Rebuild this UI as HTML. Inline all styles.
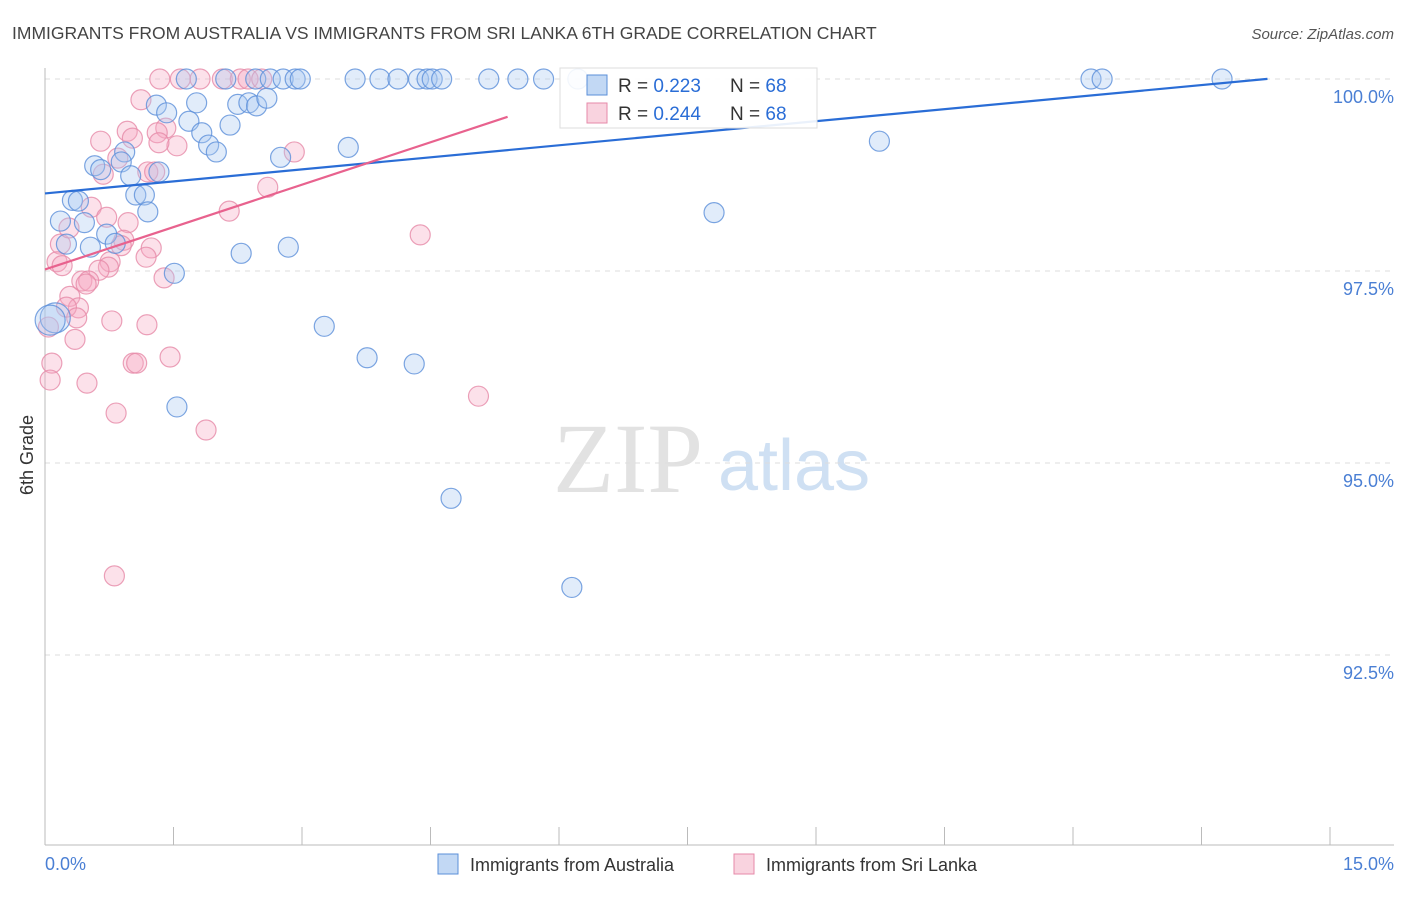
<!DOCTYPE html>
<html><head><meta charset="utf-8"><style>
body{margin:0;background:#fff;font-family:"Liberation Sans",sans-serif}
</style></head><body>
<svg width="1406" height="892" viewBox="0 0 1406 892" xmlns="http://www.w3.org/2000/svg">
<text x="12" y="39" font-size="17.5" fill="#444">IMMIGRANTS FROM AUSTRALIA VS IMMIGRANTS FROM SRI LANKA 6TH GRADE CORRELATION CHART</text>
<text x="1394" y="39" font-size="15" fill="#555" font-style="italic" text-anchor="end">Source: ZipAtlas.com</text>
<g>
<text x="553" y="492" font-size="100" fill="#e2e2e2" font-family="Liberation Serif,serif">ZIP</text>
<text x="718" y="490" font-size="72" fill="#cfe0f3">atlas</text>
</g>
<g id="grid"></g>
<line x1="45" y1="68" x2="45" y2="845" stroke="#bbb"/>
<line x1="45" y1="845" x2="1394" y2="845" stroke="#bbb"/>
<g id="xticks"></g>
<text x="45" y="870" font-size="18" fill="#4a7fd4">0.0%</text>
<text x="1394" y="870" font-size="18" fill="#4a7fd4" text-anchor="end">15.0%</text>
<text transform="translate(33,455) rotate(-90)" font-size="18" fill="#333" text-anchor="middle">6th Grade</text>
<g id="pts"></g>
<g id="lines"></g>
<g>
<rect x="560" y="68" width="257" height="60" fill="#fff" fill-opacity="0.9" stroke="#ddd"/>
<rect x="587" y="75" width="20" height="20" fill="#a8c8f0" fill-opacity="0.7" stroke="#5b8fd9"/>
<text x="618" y="92" font-size="19" fill="#333">R = <tspan fill="#2a6dd6">0.223</tspan><tspan x="730">N = </tspan><tspan fill="#2a6dd6">68</tspan></text>
<rect x="587" y="103" width="20" height="20" fill="#f7c0d2" fill-opacity="0.7" stroke="#e68aa8"/>
<text x="618" y="120" font-size="19" fill="#333">R = <tspan fill="#2a6dd6">0.244</tspan><tspan x="730">N = </tspan><tspan fill="#2a6dd6">68</tspan></text>
</g>
<g>
<rect x="438" y="854" width="20" height="20" fill="#a8c8f0" fill-opacity="0.7" stroke="#5b8fd9"/>
<text x="470" y="871" font-size="18" fill="#333">Immigrants from Australia</text>
<rect x="734" y="854" width="20" height="20" fill="#f7c0d2" fill-opacity="0.7" stroke="#e68aa8"/>
<text x="766" y="871" font-size="18" fill="#333">Immigrants from Sri Lanka</text>
</g>
</svg>
<script>
const yTicks=[100,97.5,95,92.5];
const yTickLabels=["100.0%","97.5%","95.0%","92.5%"];
const xTicks=[0,1.5,3,4.5,6,7.5,9,10.5,12,13.5,15];
const blueX=[1.65,2.11,2.46,2.63,2.78,2.92,2.98,3.62,3.91,4.12,4.36,4.46,4.52,4.63,5.18,5.52,5.82,6.22,12.21,12.34,13.74,1.30,1.77,1.42,2.25,2.38,2.47,2.59,1.68,1.83,2.16,1.91,2.00,2.75,3.54,9.74,0.93,0.58,0.65,0.89,1.00,1.33,1.06,1.16,1.20,0.32,0.39,0.18,0.46,0.72,0.82,0.53,0.25,2.29,2.84,1.51,0.12,0.06,3.26,3.76,4.31,1.54,4.74,6.15,7.81];
const blueY=[100,100,100,100,100,100,100,100,100,100,100,100,100,100,100,100,100,100,100,100,100,99.66,99.69,99.56,99.67,99.69,99.65,99.75,99.45,99.30,99.40,99.14,99.05,98.98,99.11,99.19,99.05,98.87,98.82,98.92,98.74,98.79,98.49,98.49,98.27,98.42,98.41,98.15,98.13,97.98,97.86,97.81,97.85,97.73,97.81,97.47,96.89,96.86,96.78,96.37,96.29,95.73,94.54,93.38,98.26];
const pinkX=[1.34,1.58,1.81,2.07,2.28,2.37,2.53,1.12,1.41,1.31,0.96,1.02,0.65,1.54,1.33,0.85,0.68,1.20,1.28,0.54,0.72,0.97,2.15,2.60,2.91,4.38,0.92,0.89,0.18,0.28,0.14,0.20,1.24,1.18,0.76,0.74,0.63,0.43,0.51,0.48,1.39,0.29,0.39,0.25,0.37,0.78,1.19,0.04,0.35,0.08,1.03,1.07,1.46,0.06,0.49,0.83,1.88,5.06,0.81];
const pinkY=[100,100,100,100,100,100,100,99.73,99.36,99.30,99.32,99.23,99.19,99.13,99.17,98.97,98.76,98.79,98.79,98.33,98.20,98.13,98.28,98.59,99.05,97.97,97.90,97.83,97.85,98.06,97.62,97.57,97.80,97.68,97.62,97.55,97.51,97.37,97.37,97.33,97.41,97.17,97.02,97.03,96.89,96.85,96.80,96.77,96.61,96.30,96.30,96.30,96.38,96.08,96.04,95.65,95.43,95.87,93.53];
const blueTrend=[98.51,0.1045,0,14.27];
const pinkTrend=[97.52,0.368,0,5.4];
const NS="http://www.w3.org/2000/svg";
const sx=v=>45+v*(1330-45)/15;
const sy=v=>79+(100-v)*76.8;
function mk(t,a,p){const e=document.createElementNS(NS,t);for(const k in a)e.setAttribute(k,a[k]);p.appendChild(e);return e;}
const grid=document.getElementById('grid');
yTicks.forEach((t,i)=>{
 const l=mk('line',{x1:45,x2:1394,y1:sy(t),y2:sy(t),stroke:'#ddd','stroke-dasharray':'5,5'},grid);
 
 
 const tx=mk('text',{x:1394,y:sy(t)+24,'font-size':18,fill:'#4a7fd4','text-anchor':'end'},grid);
 tx.textContent=yTickLabels[i];
 
 
});
const xt=document.getElementById('xticks');
xTicks.forEach(t=>{
 const l=mk('line',{x1:sx(t),x2:sx(t),y1:827,y2:845,stroke:'#bbb'},xt);
 
 
});
const pts=document.getElementById('pts');
function draw(X,Y,fill,stroke,name){
 X.forEach((x,i)=>{
  const big=(x<0.2&&Y[i]>96.8&&Y[i]<97);
  const c=mk('circle',{cx:sx(x),cy:sy(Y[i]),r:big?15:10,fill:fill,'fill-opacity':0.35,stroke:stroke,'stroke-opacity':0.8,'stroke-width':1.2},pts);
  
  
 });
}
draw(pinkX,pinkY,'#f7a8c2','#e68aa8','point-sri-lanka');
draw(blueX,blueY,'#a8c8f0','#5b8fd9','point-australia');
const lines=document.getElementById('lines');
function trend(T,col,name){
 const l=mk('line',{x1:sx(T[2]),y1:sy(T[0]+T[1]*T[2]),x2:sx(T[3]),y2:sy(T[0]+T[1]*T[3]),stroke:col,'stroke-width':2.2},lines);
 
 
}
trend(blueTrend,'#2a6dd6','trend-australia');
trend(pinkTrend,'#e8628e','trend-sri-lanka');
</script>
</body></html>
